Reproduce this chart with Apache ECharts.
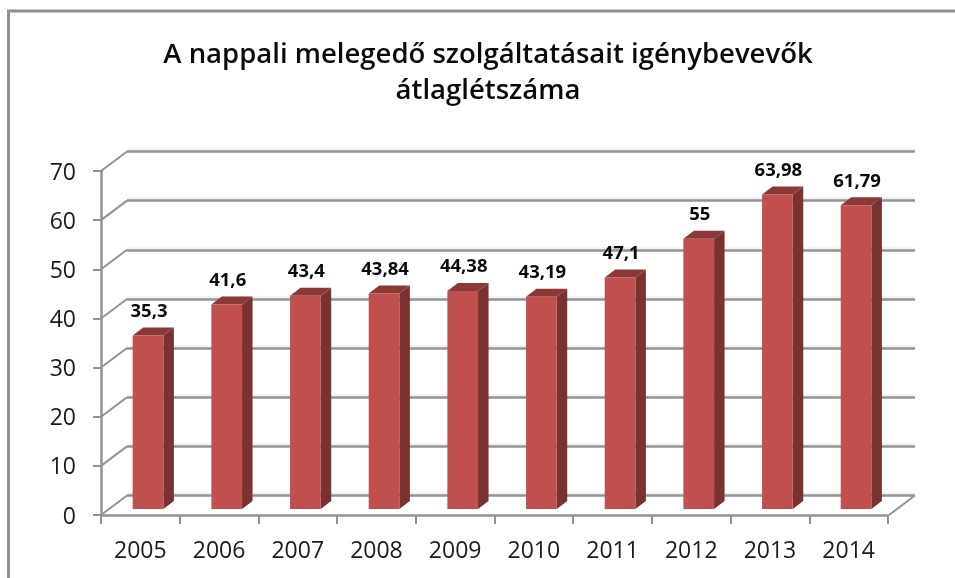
<!DOCTYPE html>
<html><head><meta charset="utf-8">
<style>html,body{margin:0;padding:0;background:#fff}#c{width:955px;height:578px;filter:blur(0.45px)}</style>
<script src="https://cdn.jsdelivr.net/npm/echarts@6/dist/echarts.min.js"></script>
</head><body><div id="c"></div>
<script>
const titleText = "A nappali melegedő szolgáltatásait igénybevevők\nátlaglétszáma";
const categories = ["2005","2006","2007","2008","2009","2010","2011","2012","2013","2014"];
const values = [35.3,41.6,43.4,43.84,44.38,43.19,47.1,55,63.98,61.79];
const yTicks = [0,10,20,30,40,50,60,70];
const FONT = '"Open Sans"';
const GRAY = '#939393';
const WALL_DX = 26, WALL_DY = 19.5, BAR_DX = 10.5, BAR_DY = 8;

const chart = echarts.init(document.getElementById('c'), null, {renderer:'canvas'});
chart.setOption({
  backgroundColor:'#fff',
  animation:false,
  title:{text:titleText,left:483,top:32,textAlign:'center',
    textStyle:{fontFamily:FONT,fontWeight:600,fontSize:27.5,lineHeight:36,color:'#0a0a0a'}},
  graphic:[
    {type:'line',z:0,shape:{x1:8.5,y1:11,x2:8.5,y2:578},style:{stroke:'#8f8f8f',lineWidth:3}},
    {type:'line',z:0,shape:{x1:7,y1:11,x2:955,y2:11},style:{stroke:'#8f8f8f',lineWidth:3}}
  ],
  grid:[
    {left:101,top:171,width:787,height:344},
    {left:127,top:151.5,width:788,height:344},
    {left:108.7,top:165,width:786.7,height:344},
    {left:101,top:173,width:787,height:344}
  ],
  xAxis:[
    {gridIndex:0,type:'category',data:categories,
      axisLine:{lineStyle:{color:GRAY,width:2.5}},
      axisTick:{show:true,length:9,lineStyle:{color:GRAY,width:2}},
      axisLabel:{margin:25,fontFamily:FONT,fontSize:23,color:'#1a1a1a'}},
    {gridIndex:1,type:'value',min:0,max:1,show:false},
    {gridIndex:2,type:'category',data:categories,show:false},
    {gridIndex:3,type:'category',data:categories,show:false}
  ],
  yAxis:[
    {gridIndex:0,type:'value',min:0,max:70,interval:10,
      axisLine:{show:true,lineStyle:{color:GRAY,width:2.5}},
      axisTick:{show:true,length:8,lineStyle:{color:GRAY,width:2}},
      splitLine:{show:false},axisLabel:{show:false}},
    {gridIndex:1,type:'value',min:0,max:70,interval:10,
      axisLine:{show:false},axisTick:{show:false},axisLabel:{show:false},
      splitLine:{show:true,lineStyle:{color:GRAY,width:2.5,shadowColor:'rgba(0,0,0,0.06)',shadowBlur:1,shadowOffsetY:-2}}},
    {gridIndex:2,type:'value',min:0,max:70,show:false},
    {gridIndex:3,type:'value',min:0,max:70,interval:10,
      axisLine:{show:false},axisTick:{show:false},splitLine:{show:false},
      axisLabel:{margin:25,fontFamily:FONT,fontSize:23,color:'#1a1a1a'}}
  ],
  series:[
    {type:'custom',xAxisIndex:1,yAxisIndex:1,z:1,silent:true,
      data:yTicks.map(v=>[0,v]),
      renderItem(p,api){
        const b=api.coord([0,api.value(1)]);
        return {type:'line',shape:{x1:b[0],y1:b[1],x2:b[0]-WALL_DX,y2:b[1]+WALL_DY},
          style:{stroke:GRAY,lineWidth:2}};
      }},
    {type:'custom',xAxisIndex:1,yAxisIndex:1,z:1,silent:true,
      data:[[1,0]],
      renderItem(p,api){
        const b=api.coord([api.value(0),api.value(1)]);
        return {type:'line',shape:{x1:b[0],y1:b[1],x2:b[0]-WALL_DX,y2:b[1]+WALL_DY},
          style:{stroke:GRAY,lineWidth:2}};
      }},
    {type:'custom',xAxisIndex:2,yAxisIndex:2,z:5,silent:true,
      data:values.map((v,i)=>[i,v]),
      renderItem(p,api){
        const i=api.value(0),v=api.value(1);
        const t=api.coord([i,v]),b=api.coord([i,0]);
        const w=api.size([1,0])[0]*0.39;
        const l=t[0]-w/2,r=t[0]+w/2;
        return {type:'group',children:[
          {type:'polygon',shape:{points:[[r,t[1]],[r+BAR_DX,t[1]-BAR_DY],[r+BAR_DX,b[1]-BAR_DY],[r,b[1]]]},
            style:{fill:'#7a3230'}},
          {type:'polygon',shape:{points:[[l,t[1]],[l+BAR_DX,t[1]-BAR_DY],[r+BAR_DX,t[1]-BAR_DY],[r,t[1]]]},
            style:{fill:'#8b3836'}},
          {type:'rect',shape:{x:l,y:t[1],width:w,height:b[1]-t[1]},
            style:{fill:'#c0504d'}},
          {type:'text',style:{text:String(v).replace('.',','),x:t[0]+1,y:t[1]-24,
            align:'center',verticalAlign:'middle',fill:'#0a0a0a',
            font:'bold 18.5px '+FONT}}
        ]};
      }}
  ]
});
</script></body></html>
